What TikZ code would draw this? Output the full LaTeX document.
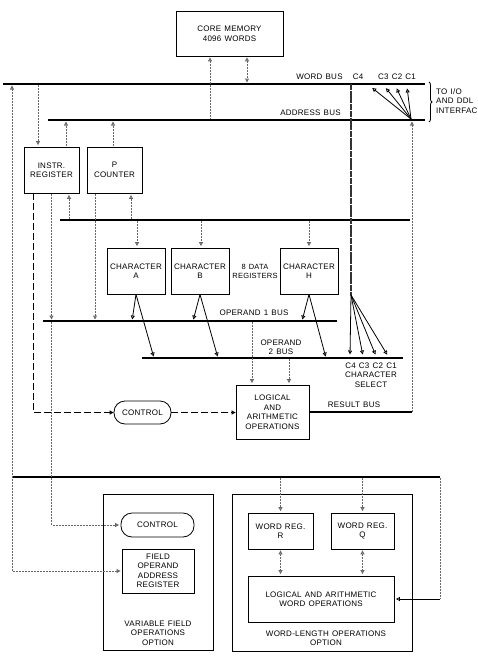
\documentclass[tikz,border=0pt]{standalone}
\usepackage{fontspec}
\setmainfont{Liberation Sans}[LetterSpace=3, WordSpace=1.3]
\usetikzlibrary{arrows.meta,decorations.pathreplacing}

\begin{document}
\begin{tikzpicture}[
x=1pt, y=-1pt,
font=\fontsize{8}{9.5}\selectfont,
box/.style={draw, line width=0.8pt, align=center, inner sep=1pt},
pill/.style={box, rounded corners=11pt},
lbl/.style={align=center, inner sep=0pt},
bus/.style={line width=2pt},
data/.style={line width=0.9pt, black!60, dash pattern=on 2pt off 1pt, shorten >=1.5pt, shorten <=1pt},
ctrl/.style={line width=1pt, dash pattern=on 7pt off 3pt},
wire/.style={line width=0.8pt, shorten >=1.5pt},
tip/.style={-{Triangle[open,length=4pt,width=4pt]}},
tips/.style={{Triangle[open,length=4pt,width=4pt]}-{Triangle[open,length=4pt,width=4pt]}},
pit/.style={{Triangle[open,length=4pt,width=4pt]}-}
]

\useasboundingbox (0,0) rectangle (478,659);

\node (mem) [box, minimum width=107pt, minimum height=45pt] at (229.5,33.5) {CORE MEMORY\\4096 WORDS};

\node (instr) [box, minimum width=55pt, minimum height=46pt] at (51.5,170) {INSTR.\\REGISTER};
\node (pc) [box, minimum width=55pt, minimum height=46pt] at (114.5,170) {P\\COUNTER};

\node (chA) [box, minimum width=58pt, minimum height=46pt] at (136,271) {CHARACTER\\A};
\node (chB) [box, minimum width=58pt, minimum height=46pt] at (200,271) {CHARACTER\\B};
\node (chH) [box, minimum width=58pt, minimum height=46pt] at (309,271) {CHARACTER\\H};

\node (lao) [box, minimum width=73pt, minimum height=54pt] at (272.5,412) {LOGICAL\\AND\\ARITHMETIC\\OPERATIONS};
\node (ctrl) [pill, minimum width=57pt, minimum height=23pt] at (142.5,412.5) {CONTROL};

\node (vfo) [box, minimum width=110pt, minimum height=156pt] at (158,572) {};
\node (vctrl) [pill, minimum width=73pt, minimum height=24pt] at (157.5,525) {CONTROL};
\node (foar) [box, minimum width=72pt, minimum height=44pt] at (158,571) {FIELD\\OPERAND\\ADDRESS\\REGISTER};
\node (vfolbl) [lbl] at (158,633) {VARIABLE FIELD\\OPERATIONS\\OPTION};

\node (wlo) [box, minimum width=180pt, minimum height=157pt] at (322,572.5) {};
\node (wrR) [box, minimum width=65pt, minimum height=36pt] at (280.5,531) {WORD REG.\\R};
\node (wrQ) [box, minimum width=63pt, minimum height=36pt] at (362.5,531) {WORD REG.\\Q};
\node (wops) [box, minimum width=146pt, minimum height=46pt] at (321,599) {LOGICAL AND ARITHMETIC\\WORD OPERATIONS};
\node (wlolbl) [lbl] at (326,638) {WORD-LENGTH OPERATIONS\\OPTION};

\node (wblbl) [lbl] at (319.5,77) {WORD BUS};
\node (c4lbl) [lbl] at (358,77) {C4};
\node (c31lbl) [lbl] at (397,77) {C3 C2 C1};
\node (ablbl) [lbl] at (310.5,113) {ADDRESS BUS};
\node (iolbl) [lbl, align=left, anchor=west] at (436,101) {TO I/O\\AND DDL\\INTERFAC};
\node (drlbl) [lbl, font=\fontsize{7.5}{9}\selectfont] at (255,271) {8 DATA\\REGISTERS};
\node (o1lbl) [lbl] at (254,313) {OPERAND 1 BUS};
\node (o2lbl) [lbl] at (281,347) {OPERAND\\2 BUS};
\node (cslbl) [lbl] at (371,375) {C4 C3 C2 C1\\CHARACTER\\SELECT};
\node (rblbl) [lbl] at (354,405) {RESULT BUS};

\coordinate (wb-w) at (3,84);
\coordinate (wb-e) at (425,84);
\coordinate (ab-w) at (48,120);
\coordinate (ab-e) at (425,120);
\coordinate (ib-w) at (60,220);
\coordinate (ib-e) at (410,220);
\coordinate (o1-w) at (43,321);
\coordinate (o1-e) at (337,321);
\coordinate (o2-w) at (142,358);
\coordinate (o2-e) at (403,358);
\coordinate (rb-e) at (412,413);
\coordinate (xb-w) at (12,477);
\coordinate (xb-e) at (440,477);
\coordinate (fan-t) at (411,119);
\coordinate (cs) at (351,295);
\foreach \n/\x in {4/371,3/385,2/396,1/407} \coordinate (wc\n) at (\x,87);
\foreach \n/\x in {4/350,3/363,2/376,1/388} \coordinate (oc\n) at (\x,356);

\draw[bus] (wb-w) -- (wb-e);
\draw[bus] (ab-w) -- (ab-e);
\draw[bus] (ib-w) -- (ib-e);
\draw[bus] (o1-w) -- (o1-e);
\draw[bus] (o2-w) -- (o2-e);
\draw[bus] (xb-w) -- (xb-e);
\draw[bus] (lao.east) -- (lao.east -| rb-e);
\draw[wire, shorten >=0pt, decorate, decoration={brace, amplitude=3pt}] (429,82) -- (429,122);

\draw[data,pit] ([xshift=-19.5pt]mem.south) -- ([xshift=-19.5pt]mem.south |- ab-w);
\draw[data,tips] ([xshift=17.5pt]mem.south) -- ([xshift=17.5pt]mem.south |- wb-w);

\draw[data,tip] ([xshift=-13.5pt]instr.north |- wb-w) -- ([xshift=-13.5pt]instr.north);
\draw[data,tip] ([xshift=14.5pt]instr.north) -- ([xshift=14.5pt]instr.north |- ab-w);
\draw[data,tip] ([xshift=-1.5pt]pc.north) -- ([xshift=-1.5pt]pc.north |- ab-w);

\draw[data,tip] ([xshift=17.5pt]instr.south |- ib-w) -- ([xshift=17.5pt]instr.south);
\draw[data,tip] ([xshift=16.5pt]pc.south |- ib-w) -- ([xshift=16.5pt]pc.south);
\draw[data,tip] ([xshift=1pt]chA.north |- ib-w) -- ([xshift=1pt]chA.north);
\draw[data,tip] ([xshift=1pt]chB.north |- ib-w) -- ([xshift=1pt]chB.north);
\draw[data,tip] (chH.north |- ib-w) -- (chH.north);

\draw[ctrl,tip] ([xshift=-18.5pt]instr.south) |- (ctrl.west);
\draw[data,tip] (instr.south) -- (instr.south |- o1-w);
\draw[data,tip] (instr.south |- o1-w) |- (vctrl.west);
\draw[data,tip] ([xshift=-19.5pt]pc.south) -- ([xshift=-19.5pt]pc.south |- o1-w);

\draw[wire,tip] (chA.south) -- ([xshift=-4pt]chA.south |- o1-w);
\draw[wire,tip] (chA.south) -- ([xshift=18pt]chA.south |- o2-w);
\draw[wire,tip] (chB.south) -- ([xshift=-7pt]chB.south |- o1-w);
\draw[wire,tip] (chB.south) -- ([xshift=18pt]chB.south |- o2-w);
\draw[wire,tip] (chH.south) -- ([xshift=-7pt]chH.south |- o1-w);
\draw[wire,tip] (chH.south) -- ([xshift=17pt]chH.south |- o2-w);

\draw[data,tip] ([xshift=-20.5pt]lao.north |- o1-w) -- ([xshift=-20.5pt]lao.north);
\draw[data,tip] ([xshift=16.5pt]lao.north |- o2-w) -- ([xshift=16.5pt]lao.north);
\draw[ctrl,tip] (ctrl.east) -- (lao.west |- ctrl.east);

\draw[data,tip] (rb-e) -- (rb-e |- ab-e);
\foreach \n in {4,3,2,1} \draw[wire,tip] (fan-t) -- (wc\n);
\draw[line width=1.6pt, black!80, dash pattern=on 6pt off 0.7pt] (cs |- wb-w) -- (cs);
\foreach \n in {4,3,2,1} \draw[wire,tip] (cs) -- (oc\n);

\draw[data,tips] (foar.west) -| (xb-w |- wb-w);
\draw[data, shorten >=0pt] (xb-e) -- (xb-e |- wops.east);
\draw[wire,tip] (xb-e |- wops.east) -- (wops.east);
\draw[data,tip] (wrR.north |- xb-w) -- (wrR.north);
\draw[data,tip] (wrQ.north |- xb-w) -- (wrQ.north);
\draw[data,tips] (wrR.south) -- (wrR.south |- wops.north);
\draw[data,tips] (wrQ.south) -- (wrQ.south |- wops.north);

\end{tikzpicture}
\end{document}
